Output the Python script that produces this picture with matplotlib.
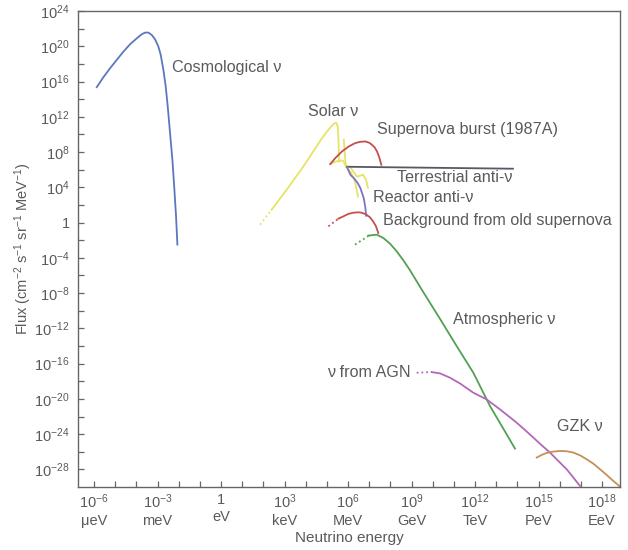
import numpy as np
import matplotlib
matplotlib.use("Agg")
import matplotlib.pyplot as plt
from matplotlib.ticker import FixedLocator, NullFormatter

plt.rcParams['font.family'] = ['Liberation Sans', 'DejaVu Sans']
plt.rcParams['mathtext.fontset'] = 'custom'
plt.rcParams['mathtext.rm'] = 'Liberation Sans'
plt.rcParams['mathtext.it'] = 'Liberation Sans:italic'
plt.rcParams['mathtext.bf'] = 'Liberation Sans:bold'

# all curves as log10(E / eV) and log10(flux)
cosmo_x = [-5.874, -5.559, -5.244, -4.929, -4.615, -4.299, -3.984, -3.748, -3.591, -3.434,
           -3.276, -3.119, -2.961, -2.851, -2.725, -2.615, -2.520, -2.410, -2.300, -2.205,
           -2.127, -2.064]
cosmo_y = [15.36, 16.49, 17.51, 18.45, 19.39, 20.23, 20.90, 21.36, 21.55, 21.55,
           21.28, 20.79, 19.96, 19.02, 17.32, 15.43, 13.17, 10.15, 7.13, 3.73,
           0.71, -2.50]

solar_dot_x = [1.84, 2.39]
solar_dot_y = [-0.24, 1.46]
solar_pp_x = [2.39, 3.10, 3.89, 4.77, 5.006, 5.242, 5.37, 5.445, 5.51, 5.54, 5.56, 5.57]
solar_pp_y = [1.46, 3.73, 6.37, 9.58, 10.33, 11.01, 11.28, 11.32, 10.90, 9.96, 8.45, 6.93]
solar_kink_x = [5.15, 5.45, 5.75, 5.9]
solar_kink_y = [6.64, 6.95, 7.05, 6.4]
solar_be_x = [5.80, 5.84, 5.90]
solar_be_y = [9.39, 8.0, 6.33]
solar_b8a_x = [5.90, 6.14, 6.33, 6.47]
solar_b8a_y = [6.33, 5.65, 4.63, 2.93]
solar_b8b_x = [6.09, 6.42, 6.71, 6.85, 6.94]
solar_b8b_y = [6.33, 5.2, 5.43, 4.86, 3.95]

sn_x = [5.162, 5.398, 5.713, 6.030, 6.343, 6.579, 6.815, 7.004, 7.132, 7.259, 7.368, 7.476, 7.571]
sn_y = [6.64, 7.32, 8.07, 8.63, 9.02, 9.16, 9.20, 9.05, 8.82, 8.52, 8.07, 7.39, 6.56]

terr_x = [5.95, 13.79]
terr_y = [6.33, 6.11]

reactor_x = [5.95, 6.11, 6.27, 6.45, 6.58, 6.74, 6.82, 6.85]
reactor_y = [6.30, 5.43, 5.05, 4.50, 3.92, 2.79, 1.66, 0.78]

bg_dot_x = [5.07, 5.54]
bg_dot_y = [-0.43, 0.44]
bg_x = [5.540, 5.776, 6.012, 6.248, 6.484, 6.645, 6.848, 7.037, 7.193, 7.321, 7.430]
bg_y = [0.44, 0.70, 0.98, 1.12, 1.16, 1.12, 0.93, 0.59, 0.10, -0.43, -1.18]

atm_dot_x = [6.33, 6.96]
atm_dot_y = [-2.50, -1.52]
atm_x = [6.959, 7.353, 7.667, 7.982, 8.297, 8.612, 8.927, 9.242, 9.557, 9.950,
         10.344, 11.131, 11.918, 12.706, 13.493, 13.887]
atm_y = [-1.48, -1.37, -1.75, -2.39, -3.26, -4.28, -5.41, -6.66, -7.90, -9.41,
         -10.92, -14.01, -17.03, -20.81, -24.02, -25.64]

agn_dot_x = [9.24, 9.95]
agn_dot_y = [-17.03, -16.96]
agn_x = [9.950, 10.344, 10.816, 11.288, 11.918, 12.548, 13.178, 13.572, 13.966, 14.359,
         14.753, 15.147, 15.540, 15.934, 16.328, 16.643, 16.957]
agn_y = [-16.96, -17.11, -17.60, -18.25, -19.30, -20.06, -21.19, -21.94, -22.70, -23.53,
         -24.39, -25.26, -26.09, -27.04, -27.98, -28.92, -29.87]

gzk_x = [14.912, 15.148, 15.384, 15.697, 16.012, 16.329, 16.641, 16.957, 17.273, 17.585,
         17.902, 18.218, 18.530, 18.847]
gzk_y = [-26.66, -26.36, -26.13, -25.98, -25.91, -25.94, -26.09, -26.40, -26.85, -27.34,
         -27.98, -28.63, -29.31, -29.94]

x_ticks = [-6, -3, 0, 3, 6, 9, 12, 15, 18]
x_units = ['μeV', 'meV', 'eV', 'keV', 'MeV', 'GeV', 'TeV', 'PeV', 'EeV']
y_ticks = list(range(-28, 25, 4))

labels = [
    ('Cosmological ν', -2.32, 17.54),
    ('Solar ν', 4.12, 12.6),
    ('Supernova burst (1987A)', 7.35, 10.52),
    ('Terrestrial anti-ν', 8.30, 5.12),
    ('Reactor anti-ν', 7.19, 2.86),
    ('Background from old supernova', 7.63, 0.25),
    ('Atmospheric ν', 10.97, -11.0),
    ('ν from AGN', 5.0, -17.0),
    ('GZK ν', 15.85, -23.1),
]

c_blue = '#5a78bd'
c_yellow = '#e6e466'
c_red = '#c4504c'
c_grey = '#555a62'
c_purple = '#7f72c4'
c_green = '#52a052'
c_magenta = '#b268b8'
c_brown = '#c49058'
c_text = '#5a5a5a'


def p(v):
    return 10.0 ** np.asarray(v)


fig = plt.figure(figsize=(6.28, 5.5), dpi=100)
ax = fig.add_axes([0.1242, 0.1145, 0.8631, 0.8655])
ax.set_xscale('log')
ax.set_yscale('log')

lw = 1.3
ax.plot(p(cosmo_x), p(cosmo_y), color=c_blue, lw=lw)

ax.plot(p(solar_dot_x), p(solar_dot_y), color=c_yellow, lw=lw, ls=':')
ax.plot(p(solar_pp_x), p(solar_pp_y), color=c_yellow, lw=lw)
ax.plot(p(solar_kink_x), p(solar_kink_y), color=c_yellow, lw=lw)
ax.plot(p(solar_be_x), p(solar_be_y), color=c_yellow, lw=lw)
ax.plot(p(solar_b8a_x), p(solar_b8a_y), color=c_yellow, lw=lw)
ax.plot(p(solar_b8b_x), p(solar_b8b_y), color=c_yellow, lw=lw)

ax.plot(p(sn_x), p(sn_y), color=c_red, lw=lw)
ax.plot(p(terr_x), p(terr_y), color=c_grey, lw=lw)
ax.plot(p(reactor_x), p(reactor_y), color=c_purple, lw=lw)

ax.plot(p(bg_dot_x), p(bg_dot_y), color=c_red, lw=lw, ls=':')
ax.plot(p(bg_x), p(bg_y), color=c_red, lw=lw)

ax.plot(p(atm_dot_x), p(atm_dot_y), color=c_green, lw=lw, ls=':')
ax.plot(p(atm_x), p(atm_y), color=c_green, lw=lw)

ax.plot(p(agn_dot_x), p(agn_dot_y), color=c_magenta, lw=lw, ls=':')
ax.plot(p(agn_x), p(agn_y), color=c_magenta, lw=lw)

ax.plot(p(gzk_x), p(gzk_y), color=c_brown, lw=lw)

for txt, lx, ly in labels:
    ax.text(10.0 ** lx, 10.0 ** ly, txt, fontsize=11.6, color=c_text,
            ha='left', va='center')

ax.set_xlim(10 ** -6.76, 10 ** 18.85)
ax.set_ylim(1e-30, 1e24)

ax.xaxis.set_major_locator(FixedLocator([10.0 ** t for t in x_ticks]))
ax.xaxis.set_minor_locator(FixedLocator([10.0 ** t for t in range(-6, 19) if t % 3 != 0]))
ax.xaxis.set_minor_formatter(NullFormatter())
xlabels = []
for t, u in zip(x_ticks, x_units):
    if t == 0:
        xlabels.append('1\n' + u)
    else:
        xlabels.append('10$^{\\mathregular{%d}}$\n%s' % (t, u))
ax.set_xticklabels(xlabels, fontsize=10.5, color=c_text, linespacing=1.3)

ax.yaxis.set_major_locator(FixedLocator([10.0 ** t for t in y_ticks]))
ax.yaxis.set_minor_locator(FixedLocator([10.0 ** t for t in range(-26, 24, 4)]))
ax.yaxis.set_minor_formatter(NullFormatter())
ylabels = ['1' if t == 0 else '10$^{\\mathregular{%d}}$' % t for t in y_ticks]
ax.set_yticklabels(ylabels, fontsize=10.5, color=c_text)

ax.tick_params(which='both', direction='in', length=4, width=0.9, colors='#666666',
               labelcolor=c_text)
ax.tick_params(axis='x', pad=4)
ax.tick_params(axis='y', pad=6)
for s in ax.spines.values():
    s.set_color('#666666')
    s.set_linewidth(1.0)

ax.set_xlabel('Neutrino energy', fontsize=11, color=c_text, labelpad=2)
ax.set_ylabel('Flux (cm$^{\\mathregular{-2}}$ s$^{\\mathregular{-1}}$ sr$^{\\mathregular{-1}}$ MeV$^{\\mathregular{-1}}$)',
              fontsize=10.5, color=c_text, labelpad=0)

fig.savefig('out.png', dpi=100)
